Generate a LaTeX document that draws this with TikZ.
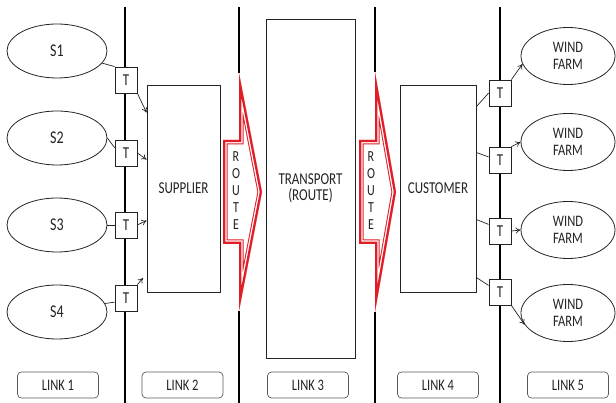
\documentclass[tikz,border=0pt]{standalone}
\usepackage{fontspec}
\setmainfont{Carlito}
\usetikzlibrary{shapes.geometric,arrows.meta}
\definecolor{routered}{RGB}{225,30,40}
\definecolor{ink}{RGB}{35,35,35}
\newcommand\tallt[1]{\scalebox{1}[1.28]{#1}}
\begin{document}
\begin{tikzpicture}[x=1pt,y=-1pt,
  src/.style={ellipse, draw=ink, line width=0.8pt, minimum width=100pt, minimum height=54pt, inner sep=0pt, text=ink, font=\fontsize{14}{16}\selectfont},
  wf/.style={ellipse, draw=ink, line width=0.8pt, minimum width=94pt, minimum height=57pt, inner sep=0pt, align=center, text=ink, font=\fontsize{12.5}{17}\selectfont},
  tbox/.style={draw=ink, fill=white, line width=0.8pt, minimum width=22pt, minimum height=26pt, inner sep=0pt, text=ink, font=\fontsize{13}{15}\selectfont},
  bigbox/.style={draw=ink, line width=0.9pt, inner sep=0pt, align=center, text=ink, font=\fontsize{13}{16}\selectfont},
  linkbox/.style={draw=black!65, rounded corners=4pt, line width=0.7pt, minimum width=81pt, minimum height=26pt, inner sep=0pt, text=ink, font=\fontsize{12.5}{15}\selectfont},
  vline/.style={line width=1.3pt, black},
  conn/.style={line width=0.7pt, ink},
  arr/.style={conn, -{To[length=5pt,width=6pt]}},
  letter/.style={inner sep=0pt, text=ink, font=\fontsize{12}{14}\selectfont},
  rstroke/.style={line join=miter, miter limit=40},
]
\useasboundingbox (0,0) rectangle (616,403);

% vertical link separators
\coordinate (v1t) at (125,7);   \coordinate (v1b) at (125,403);
\coordinate (v2t) at (239,7);   \coordinate (v2a) at (239,73);
\coordinate (v2b) at (239,311); \coordinate (v2e) at (239,403);
\coordinate (v3t) at (375,7);   \coordinate (v3a) at (375,72);
\coordinate (v3b) at (375,312); \coordinate (v3e) at (375,403);
\coordinate (v4t) at (500,7);   \coordinate (v4b) at (500,403);
\draw[vline] (v1t) -- (v1b);
\draw[vline] (v2t) -- (v2a);
\draw[vline] (v2b) -- (v2e);
\draw[vline] (v3t) -- (v3a);
\draw[vline] (v3b) -- (v3e);
\draw[vline] (v4t) -- (v4b);

% sources
\node[src] (s1) at (57,51) {\tallt{S1}};
\node[src] (s2) at (57,138) {\tallt{S2}};
\node[src] (s3) at (57,225) {\tallt{S3}};
\node[src] (s4) at (57,312) {\tallt{S4}};

% left T boxes
\node[tbox] (tl1) at (126,80) {\tallt{T}};
\node[tbox] (tl2) at (126,153) {\tallt{T}};
\node[tbox] (tl3) at (126,225) {\tallt{T}};
\node[tbox] (tl4) at (126,298) {\tallt{T}};

% main boxes
\node[bigbox, minimum width=73pt, minimum height=207pt] (sup) at (183.5,188.5) {\tallt{SUPPLIER}};
\node[bigbox, minimum width=89pt, minimum height=339pt] (trans) at (310.5,188.5) {\tallt{TRANSPORT}\\\tallt{(ROUTE)}};
\node[bigbox, minimum width=76pt, minimum height=207pt] (cust) at (438,188.5) {\tallt{CUSTOMER}};

% right T boxes
\node[tbox] (tr1) at (500,93) {\tallt{T}};
\node[tbox] (tr2) at (500,160) {\tallt{T}};
\node[tbox] (tr3) at (500,231) {\tallt{T}};
\node[tbox] (tr4) at (500,292) {\tallt{T}};

% wind farms
\node[wf] (wf1) at (568,56) {\tallt{WIND}\\\tallt{FARM}};
\node[wf] (wf2) at (568,142) {\tallt{WIND}\\\tallt{FARM}};
\node[wf] (wf3) at (568,230) {\tallt{WIND}\\\tallt{FARM}};
\node[wf] (wf4) at (568,313) {\tallt{WIND}\\\tallt{FARM}};

% route arrows
\def\routeA{(223,140) -- (239,140) -- (239,73) -- (262,192) -- (239,311) -- (239,244) -- (223,244) -- cycle}
\def\routeB{(359,140) -- (375,140) -- (375,72) -- (396,192) -- (375,312) -- (375,244) -- (359,244) -- cycle}
\fill[white] \routeA;
\begin{scope}
  \clip \routeA;
  \draw[routered, line width=9pt, rstroke] \routeA;
  \draw[white, line width=7pt, rstroke] \routeA;
  \draw[routered, line width=4.5pt, rstroke] \routeA;
\end{scope}
\fill[white] \routeB;
\begin{scope}
  \clip \routeB;
  \draw[routered, line width=9pt, rstroke] \routeB;
  \draw[white, line width=7pt, rstroke] \routeB;
  \draw[routered, line width=4.5pt, rstroke] \routeB;
\end{scope}
\node[letter] (ra1) at (236,157) {\tallt{R}};
\node[letter] (ra2) at (236,174) {\tallt{O}};
\node[letter] (ra3) at (236,191) {\tallt{U}};
\node[letter] (ra4) at (236,208) {\tallt{T}};
\node[letter] (ra5) at (236,225) {\tallt{E}};
\node[letter] (rb1) at (371,157) {\tallt{R}};
\node[letter] (rb2) at (371,174) {\tallt{O}};
\node[letter] (rb3) at (371,191) {\tallt{U}};
\node[letter] (rb4) at (371,208) {\tallt{T}};
\node[letter] (rb5) at (371,225) {\tallt{E}};

% left connectors
\draw[conn] (s1.-15) -- (tl1.north west);
\draw[conn] (s2.east) -- (tl2.155);
\draw[conn] (s3.east) -- (tl3.west);
\draw[conn] (s4.10) -- (tl4.200);
\draw[arr] (tl1.south east) -- ([yshift=-28pt]sup.north west);
\draw[arr] (tl2.east) -- ([yshift=-75pt]sup.north west);
\draw[arr] (tl3.east) -- ([yshift=-136pt]sup.north west);
\coordinate (t4end) at (143,278);
\draw[arr] (tl4.north east) -- (t4end);

% right connectors
\draw[conn] ([yshift=-22pt]cust.north east) -- (tr1.west);
\draw[conn] ([yshift=-68pt]cust.north east) -- (tr2.165);
\draw[conn] ([yshift=-135pt]cust.north east) -- (tr3.150);
\draw[conn] ([yshift=-193pt]cust.north east) -- (tr4.150);
\draw[arr] (tr1.north east) -- (wf1.190);
\draw[arr] (tr2.north east) -- (wf2.west);
\draw[arr] (tr3.east) -- (wf3.west);
\draw[arr] (tr4.south east) -- (wf4.195);

% link labels
\node[linkbox] (lk1) at (58,385) {\tallt{LINK 1}};
\node[linkbox] (lk2) at (182.5,385) {\tallt{LINK 2}};
\node[linkbox] (lk3) at (308,385) {\tallt{LINK 3}};
\node[linkbox] (lk4) at (438,385) {\tallt{LINK 4}};
\node[linkbox] (lk5) at (568,385) {\tallt{LINK 5}};
\end{tikzpicture}
\end{document}
